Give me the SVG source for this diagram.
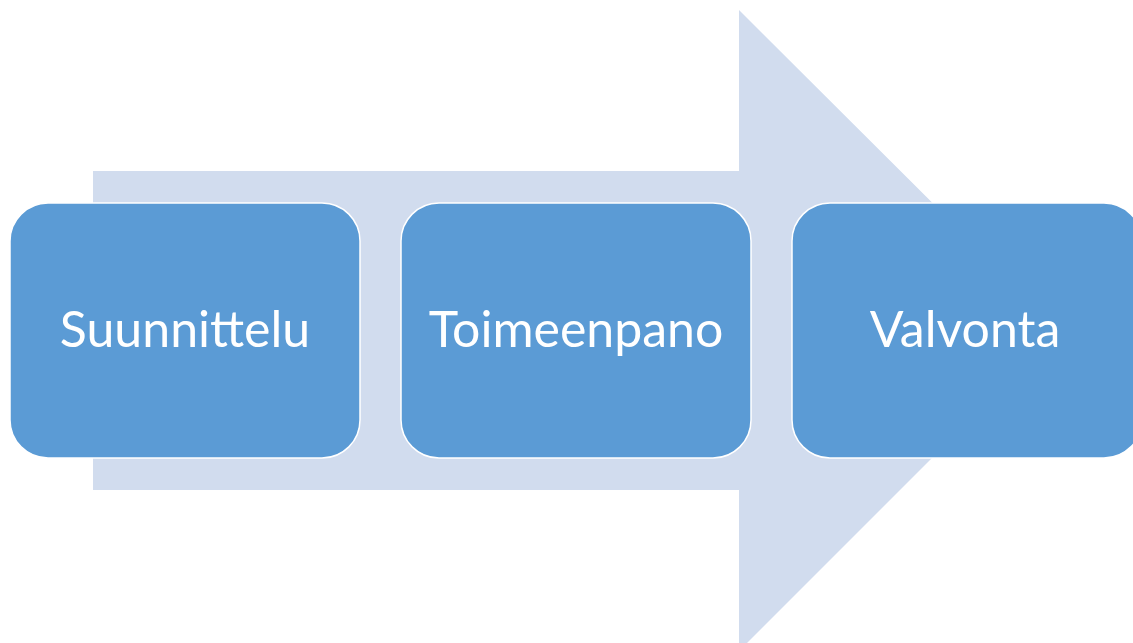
<svg xmlns="http://www.w3.org/2000/svg" width="1133" height="643" viewBox="0 0 1133 643">
  <style>
    .step { fill: #5b9bd5; stroke: #ffffff; stroke-width: 1.5; }
    .label { fill: #ffffff; font-family: Lato, "Open Sans", "Liberation Sans", sans-serif; font-size: 50px; text-anchor: middle; }
    .flow { fill: #d1dcee; }
  </style>
  <rect width="1133" height="643" fill="#ffffff"/>
  <!-- large background arrow -->
  <g id="connectors">
    <polygon class="flow" points="93,171 739,171 739,10 1060,330 739,651 739,490 93,490"/>
  </g>
  <g id="node-suunnittelu">
    <rect class="step" x="10" y="203" width="350" height="255" rx="38" ry="38"/>
    <text class="label" x="185" y="347">Suunnittelu</text>
  </g>
  <g id="node-toimeenpano">
    <rect class="step" x="401" y="203" width="350" height="255" rx="38" ry="38"/>
    <text class="label" x="576" y="347">Toimeenpano</text>
  </g>
  <g id="node-valvonta">
    <rect class="step" x="792" y="203" width="350" height="255" rx="38" ry="38"/>
    <text class="label" x="965" y="347">Valvonta</text>
  </g>
</svg>
